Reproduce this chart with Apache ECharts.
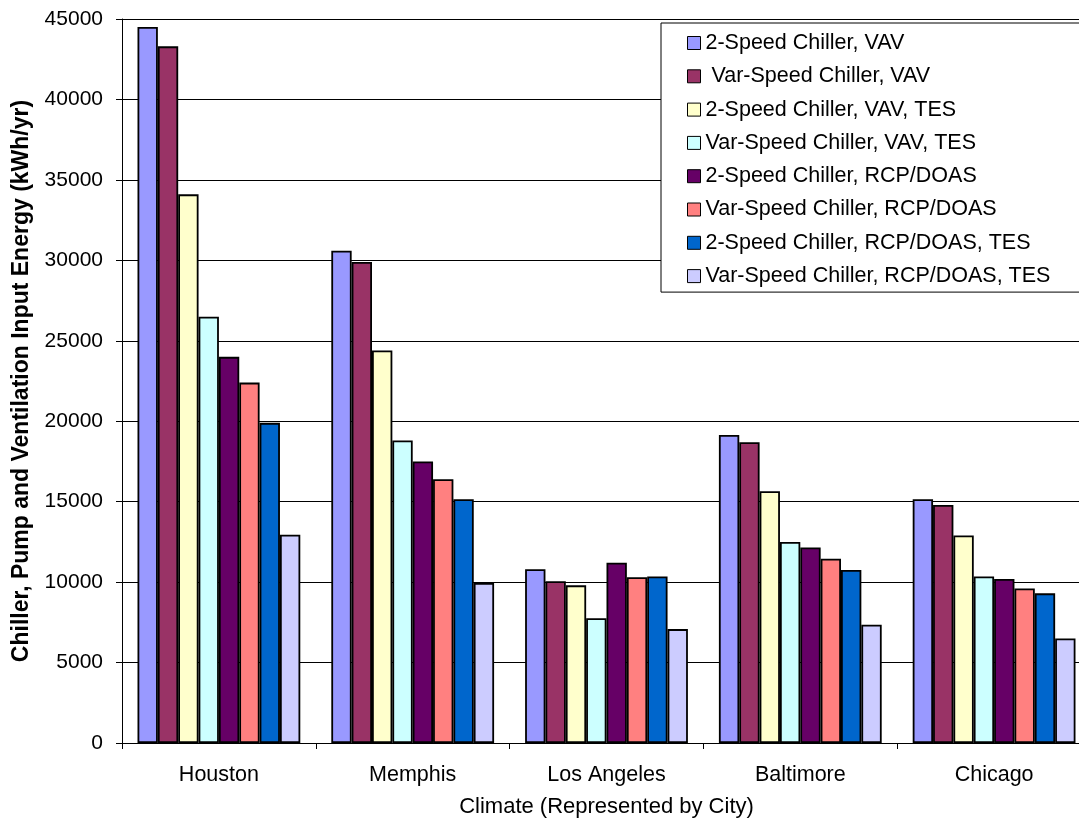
<!DOCTYPE html>
<html>
<head>
<meta charset="utf-8">
<script src="https://cdn.jsdelivr.net/npm/echarts@6/dist/echarts.min.js"></script>
<style>
  html, body { margin: 0; padding: 0; background: #fff; }
  #chart { width: 1079px; height: 819px; }
</style>
</head>
<body>
<div id="chart"></div>
<script>
// Climates (cities) along the x axis
const cities = ['Houston', 'Memphis', 'Los Angeles', 'Baltimore', 'Chicago'];

// System configurations, one bar series each
const seriesNames = [
  '2-Speed Chiller, VAV',
  ' Var-Speed Chiller, VAV',
  '2-Speed Chiller, VAV, TES',
  'Var-Speed Chiller, VAV, TES',
  '2-Speed Chiller, RCP/DOAS',
  'Var-Speed Chiller, RCP/DOAS',
  '2-Speed Chiller, RCP/DOAS, TES',
  'Var-Speed Chiller, RCP/DOAS, TES'
];

// Annual energy (kWh/yr) per configuration, in city order
const twoSpeedVAV        = [44500, 30600, 10800, 19150, 15150];
const varSpeedVAV        = [43300, 29900, 10050, 18700, 14800];
const twoSpeedVAVTES     = [34100, 24400,  9800, 15650, 12900];
const varSpeedVAVTES     = [26500, 18800,  7750, 12500, 10350];
const twoSpeedRCP        = [24000, 17500, 11200, 12150, 10200];
const varSpeedRCP        = [22400, 16400, 10300, 11450,  9600];
const twoSpeedRCPTES     = [19900, 15150, 10350, 10750,  9300];
const varSpeedRCPTES     = [12950,  9950,  7080,  7350,  6500];

const seriesValues = [
  twoSpeedVAV, varSpeedVAV, twoSpeedVAVTES, varSpeedVAVTES,
  twoSpeedRCP, varSpeedRCP, twoSpeedRCPTES, varSpeedRCPTES
];

const palette = ['#9999FF', '#993366', '#FFFFCC', '#CCFFFF', '#660066', '#FF8080', '#0066CC', '#CCCCFF'];

const yTicks = { min: 0, max: 45000, interval: 5000 };

const FONT = '"Liberation Sans", Arial, sans-serif';

const chart = echarts.init(document.getElementById('chart'), null, { renderer: 'canvas' });

chart.setOption({
  animation: false,
  backgroundColor: '#ffffff',
  textStyle: { fontFamily: FONT, color: '#000' },
  grid: {
    left: 122, top: 19, width: 969, bottom: 76,
    containLabel: false,
    outerBoundsMode: 'none'
  },
  legend: {
    orient: 'vertical',
    left: 661,
    top: 23,
    data: seriesNames,
    icon: 'rect',
    itemWidth: 13,
    itemHeight: 13,
    itemGap: 11.3,
    itemTextGap: 5,
    padding: [9, 30, 5, 26],
    borderColor: '#000',
    borderWidth: 1,
    backgroundColor: '#fff',
    selectedMode: false,
    itemStyle: { borderColor: '#000', borderWidth: 1 },
    textStyle: { fontFamily: FONT, fontSize: 21.5, color: '#000', lineHeight: 20 }
  },
  xAxis: {
    type: 'category',
    data: cities,
    name: 'Climate (Represented by City)',
    nameLocation: 'middle',
    nameGap: 53,
    nameTextStyle: { fontFamily: FONT, fontSize: 22, color: '#000' },
    axisLine: { lineStyle: { color: '#000', width: 1 } },
    axisTick: { show: true, length: 6, lineStyle: { color: '#000' } },
    axisLabel: { fontFamily: FONT, fontSize: 21.5, color: '#000', margin: 21 },
    splitLine: { show: false }
  },
  yAxis: {
    type: 'value',
    min: yTicks.min,
    max: yTicks.max,
    interval: yTicks.interval,
    name: 'Chiller, Pump and Ventilation Input Energy (kWh/yr)',
    nameLocation: 'middle',
    nameGap: 89,
    nameTextStyle: { fontFamily: FONT, fontSize: 23, fontWeight: 'bold', color: '#000' },
    axisLine: { show: true, lineStyle: { color: '#000', width: 1 } },
    axisTick: { show: true, length: 6, inside: false, lineStyle: { color: '#000' } },
    axisLabel: {
      fontFamily: FONT, fontSize: 21, color: '#000', margin: 19,
      formatter: (v) => String(v)
    },
    splitLine: { show: true, lineStyle: { color: '#000', width: 1 } }
  },
  series: seriesNames.map((name, i) => ({
    name: name,
    type: 'bar',
    data: seriesValues[i],
    barGap: '0%',
    barCategoryGap: '16%',
    itemStyle: { color: palette[i], borderColor: '#000', borderWidth: 1.8 },
    emphasis: { disabled: true }
  }))
});
</script>
</body>
</html>
